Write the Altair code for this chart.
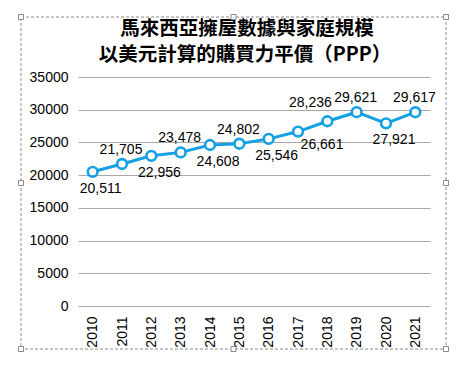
import altair as alt
import pandas as pd

years = ["2010", "2011", "2012", "2013", "2014", "2015", "2016", "2017", "2018", "2019", "2020", "2021"]
values = [20511, 21705, 22956, 23478, 24608, 24802, 25546, 26661, 28236, 29621, 27921, 29617]
label_side = ["below", "above", "below", "above", "below", "above", "below", "below_right",
              "above_left", "above", "below", "above"]
y_ticks = [0, 5000, 10000, 15000, 20000, 25000, 30000, 35000]
title_lines = ["馬來西亞擁屋數據與家庭規模", "以美元計算的購買力平價（PPP）"]

df = pd.DataFrame({"year": years, "value": values, "side": label_side})
df["label"] = [f"{v:,}" for v in values]

BLUE = "#14a0e2"
NUM_FONT = "Liberation Sans"

x = alt.X("year:O", title=None,
          axis=alt.Axis(labelAngle=-90, labelFontSize=14, labelFont=NUM_FONT, labelColor="#000",
                        ticks=False, domain=False, labelPadding=10, grid=False))
y = alt.Y("value:Q", title=None,
          scale=alt.Scale(domain=[0, 35000], nice=False),
          axis=alt.Axis(values=y_ticks, format="d", labelFontSize=14, labelFont=NUM_FONT,
                        labelColor="#000", ticks=False, domain=False, labelPadding=10,
                        grid=True, gridColor="#a8a8a8", gridWidth=1.2))

base = alt.Chart(df)
line = base.mark_line(color=BLUE, strokeWidth=3).encode(x=x, y=y)
pts = base.mark_point(shape="circle", filled=True, fill="white", stroke=BLUE,
                      strokeWidth=2.6, size=95, opacity=1).encode(x=x, y=y)


def labels(side, dx, dy):
    return base.transform_filter(alt.datum.side == side).mark_text(
        dx=dx, dy=dy, fontSize=14, font=NUM_FONT, color="#000").encode(x=x, y=y, text="label:N")


lab_above = labels("above", -1, -14)
lab_below = labels("below", 8, 17)
lab_below_r = labels("below_right", 24, 13)
lab_above_l = labels("above_left", -17, -18)

# title lines as text
title_df = pd.DataFrame({"t": title_lines, "line": [0, 1]})
title1 = alt.Chart(title_df).transform_filter(alt.datum.line == 0).mark_text(
    font="Noto Sans CJK TC", fontSize=19.5, fontWeight="bold", color="#000",
    baseline="alphabetic", align="center").encode(
    text="t:N", x=alt.value(169), y=alt.value(-42))
title2 = alt.Chart(title_df).transform_filter(alt.datum.line == 1).mark_text(
    font="Noto Sans CJK TC", fontSize=19.5, fontWeight="bold", color="#000",
    baseline="alphabetic", align="center").encode(
    text="t:N", x=alt.value(167), y=alt.value(-16))

# selection frame (decoration)
frame = alt.Chart(pd.DataFrame({"a": [0]})).mark_rect(
    fill=None, stroke="#8a8a8a", strokeDash=[3, 2], strokeWidth=1).encode(
    x=alt.value(-57), x2=alt.value(368), y=alt.value(-60), y2=alt.value(272))
handles_df = pd.DataFrame({
    "hx": [-57, 155.5, 368, -57, 368, -57, 155.5, 368],
    "hy": [-60, -60, -60, 106, 106, 272, 272, 272],
})
handles = alt.Chart(handles_df).mark_square(
    size=25, filled=True, fill="white", stroke="#8a8a8a", strokeWidth=1, opacity=1).encode(
    x=alt.X("hx:Q", scale=None), y=alt.Y("hy:Q", scale=None))

chart = alt.layer(line, pts, lab_above, lab_below, lab_below_r, lab_above_l,
                  title1, title2, frame, handles).properties(
    width=352, height=229,
    autosize=alt.AutoSizeParams(type="none"),
    padding={"left": 70, "top": 69, "right": 26, "bottom": 50},
).configure_view(stroke=None)

chart.save("out.html", embed_options={"renderer": "svg", "actions": False})
